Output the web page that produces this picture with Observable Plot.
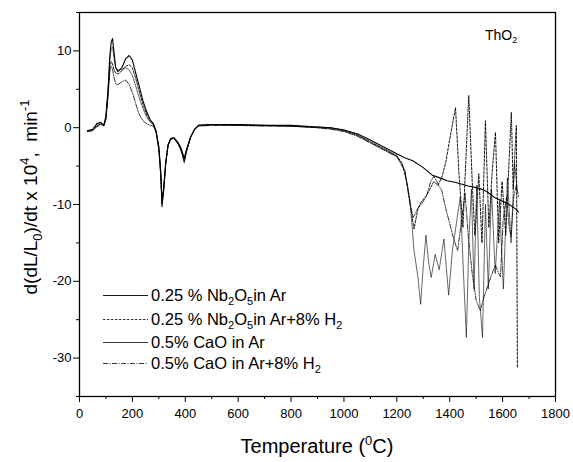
<!DOCTYPE html>
<html><head><meta charset="utf-8">
<script src="https://cdn.jsdelivr.net/npm/d3@7"></script>
<script src="https://cdn.jsdelivr.net/npm/@observablehq/plot@0.6"></script>
<style>body{margin:0;background:#fff}svg{display:block}</style>
</head><body><div id="chart"></div>
<script>
const seriesNames = ["0.25 % Nb2O5 in Ar","0.25 % Nb2O5 in Ar+8% H2","0.5% CaO in Ar","0.5% CaO in Ar+8% H2"];
const tEarly = [30,50,65,80,92,100,108,115,120,125,130,137,145,160,175,188,200,212,225,240,255,268,280,290,300,307,312,318,326,335,345,357,370,382,390,396,405,420,435,450,500,600,700,800,900,950,1000,1050,1100,1150,1200];

const t1 = tEarly.concat([1230,1260,1300,1335,1360,1390,1420,1440,1470,1500,1520,1540,1570,1595,1620,1650,1660]);
const v1 = [-0.4,-0.2,0.5,0.7,0.3,1.5,5,9.5,11.2,11.6,10,7.8,7.3,7.8,9,9.4,8.8,7.2,5.5,3.5,2,1,0.5,-0.5,-2.5,-5.5,-9.5,-8,-4.5,-2.2,-1.4,-1.3,-1.8,-2.5,-3.3,-4,-2.8,-1.2,-0.2,0.3,0.4,0.4,0.3,0.3,0.1,0,-0.3,-0.8,-1.6,-2.5,-3.4,
  -3.9,-4.3,-5.2,-6.2,-6.5,-6.9,-7.1,-7.3,-7.6,-7.8,-8.0,-8.3,-9.1,-9.5,-9.9,-10.6,-11.0];

const t2 = tEarly.concat([1220,1240,1255,1265,1280,1295,1310,1325,1340,1355,1370,1385,1400,1422,1435,1450,1460,1472,1485,1495,1510,1522,1535,1548,1560,1573,1585,1598,1612,1625,1633,1640,1647,1652,1656]);
const v2 = [-0.4,-0.3,0.2,0.5,0.4,1.2,4.5,8,8.6,8.3,7.6,7.1,7.0,7.4,8.0,8.2,7.8,6.5,4.8,3,1.6,0.8,0.4,-0.6,-2.8,-6,-10.3,-8.5,-4.8,-2.3,-1.5,-1.4,-1.9,-2.7,-3.6,-4.4,-3,-1.3,-0.2,0.3,0.4,0.3,0.3,0.2,0,-0.1,-0.4,-1,-1.9,-2.8,-3.7,
  -4.6,-7.5,-11,-13.2,-10.5,-9.5,-9,-8,-7,-7.5,-6.5,-4.5,-1.5,2.6,-6,-13,-5,4.2,-7,-14,-6,-15,0.9,-13,-6,-0.6,-15,-7,-14,-4,2.0,-8,-3,0.3,-31.2];

const t3 = tEarly.concat([1230,1250,1265,1280,1290,1300,1310,1320,1330,1345,1360,1378,1396,1410,1425,1440,1452,1463,1472,1482,1492,1502,1512,1524,1535,1546,1558,1572,1588,1603,1618,1632,1645,1655]);
const v3 = [-0.5,-0.3,0.4,0.6,0.2,1.4,4.8,9,10.3,10.5,9.2,7.8,7.5,7.6,7.8,7.5,6.8,5.5,4,2.5,1.3,0.7,0.4,-0.5,-2.6,-5.8,-9.8,-8,-4.6,-2.2,-1.4,-1.3,-1.8,-2.6,-3.4,-4.1,-2.9,-1.2,-0.2,0.3,0.4,0.4,0.3,0.2,0.1,0,-0.3,-0.9,-1.8,-2.7,-3.6,
  -5.5,-9.5,-16,-19.5,-23,-18,-14,-17.5,-19.5,-16.5,-18.5,-14.5,-21.8,-16,-12.5,-9,-19,-27.3,-15,-8,-21,-7.5,-22,-27.3,-10,-21,-8,-19,-9.5,-21,-6.5,-15,-4.5,-8];

const t4 = tEarly.concat([1230,1250,1262,1280,1300,1315,1328,1340,1355,1370,1385,1400,1415,1430,1445,1458,1470,1485,1500,1516,1530,1545,1560,1573,1583,1592,1602,1615,1625,1632,1642,1652,1660]);
const v4 = [-0.5,-0.4,0.1,0.4,0.3,1.0,4,7.5,8.0,7.6,6.6,5.7,5.6,6.0,6.2,5.6,4.6,3.2,1.8,0.9,0.5,0.3,0.2,-0.7,-2.9,-6.1,-10,-8.2,-4.7,-2.3,-1.5,-1.4,-2,-2.8,-3.7,-4.6,-3.1,-1.3,-0.3,0.2,0.3,0.3,0.2,0.2,0,-0.2,-0.5,-1.1,-2.0,-2.9,-3.8,
  -5.6,-10,-11.7,-10.5,-9.6,-8.6,-7,-6.3,-7.3,-8.2,-10.5,-12.5,-14.5,-16,-12,-8.5,-14,-19,-22.5,-23.8,-22,-20.5,-19,-17.9,-18.8,-19.4,-12,-9,-13,-14.2,-9,-7.5,-9];

const xMajor = [0,200,400,600,800,1000,1200,1400,1600,1800];
const xMinor = [100,300,500,700,900,1100,1300,1500,1700];
const yMajor = [-30,-20,-10,0,10];
const yMinor = [-35,-25,-15,-5,5,15];

const toRows = (t, v) => t.map((x, i) => ({x, y: v[i]}));
const styles = [
  {strokeWidth: 1.1, strokeDasharray: null},
  {strokeWidth: 0.9, strokeDasharray: "2.5,1.5"},
  {strokeWidth: 0.6, strokeDasharray: null},
  {strokeWidth: 0.8, strokeDasharray: "5,1.5,1,1.5"}
];
const legendWidths = [0.9, 0.8, 0.8, 0.8];
const data = [toRows(t1,v1), toRows(t2,v2), toRows(t3,v3), toRows(t4,v4)];

const W = 573, H = 462, mL = 79, mR = 18, mT = 12, mB = 66;
const plot = Plot.plot({
  width: W, height: H,
  marginLeft: mL, marginRight: mR, marginTop: mT, marginBottom: mB,
  style: {fontFamily: "'Liberation Sans', Arial, sans-serif", fontSize: "13px", color: "#000", background: "#fff"},
  x: {domain: [0, 1800]},
  y: {domain: [-35, 15]},
  marks: [
    Plot.frame({stroke: "#000", strokeWidth: 1.3}),
    Plot.axisX({ticks: xMajor, tickSize: 6, tickPadding: 6, tickFormat: d => String(d), label: null, fontSize: 13}),
    Plot.axisX({ticks: xMinor, tickSize: 3, tickFormat: () => "", label: null}),
    Plot.axisY({ticks: yMajor, tickSize: 6, tickPadding: 2, tickFormat: d => String(d), label: null, fontSize: 13}),
    Plot.axisY({ticks: yMinor, tickSize: 3, tickFormat: () => "", label: null}),
    ...data.map((d, i) => Plot.line(d, {x: "x", y: "y", stroke: "#000", strokeWidth: styles[i].strokeWidth, strokeDasharray: styles[i].strokeDasharray, strokeLinejoin: "round"}))
  ]
});
document.getElementById("chart").append(plot);

const svg = d3.select(plot);
const font = "'Liberation Sans', Arial, sans-serif";
// x label
const xl = svg.append("text").attr("x", (mL + W - mR) / 2).attr("y", 453).attr("text-anchor", "middle")
  .attr("font-family", font).attr("font-size", 20).attr("fill", "#000");
xl.append("tspan").text("Temperature (");
xl.append("tspan").attr("dy", -8).attr("font-size", 13).text("0");
xl.append("tspan").attr("dy", 8).text("C)");
// y label
const yl = svg.append("text").attr("transform", `translate(37,197) rotate(-90)`).attr("text-anchor", "middle")
  .attr("font-family", font).attr("font-size", 19).attr("fill", "#000");
yl.append("tspan").text("d(dL/L");
yl.append("tspan").attr("dy", 5).attr("font-size", 13).text("0");
yl.append("tspan").attr("dy", -5).text(")/dt x 10");
yl.append("tspan").attr("dy", -8).attr("font-size", 13).text("4");
yl.append("tspan").attr("dy", 8).text(",  min");
yl.append("tspan").attr("dy", -8).attr("font-size", 13).text("-1");
// ThO2 annotation
const th = svg.append("text").attr("x", 485).attr("y", 40).attr("text-anchor", "start").attr("font-family", font).attr("font-size", 14).attr("fill", "#000");
th.append("tspan").text("ThO");
th.append("tspan").attr("dy", 3).attr("font-size", 9).text("2");
// legend
const legY = [295, 319, 342, 363];
const parts = [
  [["0.25 % Nb",0],["2",1],["O",0],["5",1],["in Ar",0]],
  [["0.25 % Nb",0],["2",1],["O",0],["5",1],["in Ar+8% H",0],["2",1]],
  [["0.5% CaO in Ar",0]],
  [["0.5% CaO in Ar+8% H",0],["2",1]]
];
legY.forEach((yy, i) => {
  svg.append("line").attr("x1", 103).attr("x2", 148).attr("y1", yy + 0.5).attr("y2", yy + 0.5)
    .attr("stroke", "#000").attr("stroke-width", legendWidths[i])
    .attr("stroke-dasharray", styles[i].strokeDasharray);
  const t = svg.append("text").attr("x", 151).attr("y", yy + 6).attr("text-anchor", "start")
    .attr("font-family", font).attr("font-size", 16.5).attr("fill", "#000");
  let sub = 0;
  parts[i].forEach(([s, isSub]) => {
    const dy = isSub ? 4 - sub : -sub;
    t.append("tspan").attr("dy", dy).attr("font-size", isSub ? 11 : 16.5).text(s);
    sub = isSub ? 4 : 0;
  });
});
</script>
</body></html>
